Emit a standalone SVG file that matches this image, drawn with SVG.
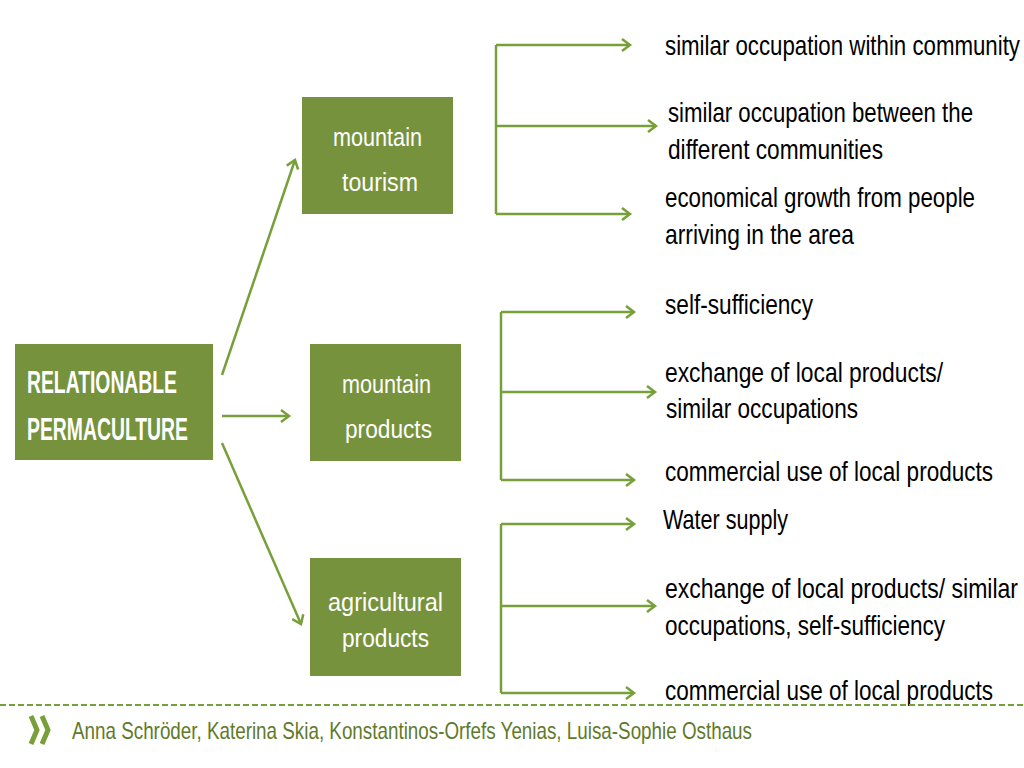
<svg xmlns="http://www.w3.org/2000/svg" width="1024" height="768" viewBox="0 0 1024 768">
<defs>
<style>
.box{fill:#76923C;}
.bt{font-family:"Liberation Sans",Arial,sans-serif;fill:#ffffff;font-size:25px;}
.mt{font-family:"Liberation Sans",Arial,sans-serif;fill:#ffffff;font-size:31px;font-weight:bold;}
.rt{font-family:"Liberation Sans",Arial,sans-serif;fill:#000000;font-size:22px;}
.ft{font-family:"Liberation Sans",Arial,sans-serif;fill:#5f7a2a;font-size:24px;}
.c{stroke:#77A03A;stroke-width:2.5;fill:none;}
</style>
<marker id="ah" markerUnits="userSpaceOnUse" markerWidth="16" markerHeight="16" viewBox="0 0 16 16" refX="13" refY="8" orient="auto">
<path d="M5,2 L13,8 L5,14" fill="none" stroke="#77A03A" stroke-width="2.5"/>
</marker>
</defs>
<rect width="1024" height="768" fill="#ffffff"/>

<g id="connectors">
<line class="c" x1="222" y1="375" x2="295" y2="160" marker-end="url(#ah)"/>
<line class="c" x1="222" y1="416" x2="289" y2="416" marker-end="url(#ah)"/>
<line class="c" x1="222" y1="443" x2="301" y2="624" marker-end="url(#ah)"/>

<path class="c" d="M496,45 V214"/>
<line class="c" x1="496" y1="45" x2="630" y2="45" marker-end="url(#ah)"/>
<line class="c" x1="496" y1="126" x2="656" y2="126" marker-end="url(#ah)"/>
<line class="c" x1="496" y1="214" x2="630" y2="214" marker-end="url(#ah)"/>

<path class="c" d="M501,312 V480"/>
<line class="c" x1="501" y1="312" x2="634" y2="312" marker-end="url(#ah)"/>
<line class="c" x1="501" y1="392" x2="655" y2="392" marker-end="url(#ah)"/>
<line class="c" x1="501" y1="480" x2="634" y2="480" marker-end="url(#ah)"/>

<path class="c" d="M501,524 V693"/>
<line class="c" x1="501" y1="524" x2="634" y2="524" marker-end="url(#ah)"/>
<line class="c" x1="501" y1="606" x2="655" y2="606" marker-end="url(#ah)"/>
<line class="c" x1="501" y1="693" x2="634" y2="693" marker-end="url(#ah)"/>
</g>

<g id="node-main">
<rect class="box" x="15" y="344" width="198" height="116"/>
<text class="mt" x="27" y="393" textLength="150" lengthAdjust="spacingAndGlyphs">RELATIONABLE</text>
<text class="mt" x="27" y="440" textLength="161" lengthAdjust="spacingAndGlyphs">PERMACULTURE</text>
</g>

<g id="node-tourism">
<rect class="box" x="302" y="97" width="151" height="117"/>
<text class="bt" x="333" y="146" textLength="89" lengthAdjust="spacingAndGlyphs">mountain</text>
<text class="bt" x="342" y="191" textLength="76" lengthAdjust="spacingAndGlyphs">tourism</text>
</g>

<g id="node-mproducts">
<rect class="box" x="310" y="344" width="151" height="117"/>
<text class="bt" x="342" y="393" textLength="89" lengthAdjust="spacingAndGlyphs">mountain</text>
<text class="bt" x="345" y="438" textLength="87" lengthAdjust="spacingAndGlyphs">products</text>
</g>

<g id="node-agri">
<rect class="box" x="310" y="558" width="151" height="118"/>
<text class="bt" x="328" y="611" textLength="115" lengthAdjust="spacingAndGlyphs">agricultural</text>
<text class="bt" x="342" y="647" textLength="87" lengthAdjust="spacingAndGlyphs">products</text>
</g>

<g id="node-t1"><text class="rt" transform="matrix(1 0 0 1.27 665 55)" textLength="355" lengthAdjust="spacingAndGlyphs">similar occupation within community</text></g>
<g id="node-t2">
<text class="rt" transform="matrix(1 0 0 1.27 668 122)" textLength="305" lengthAdjust="spacingAndGlyphs">similar occupation between the</text>
<text class="rt" transform="matrix(1 0 0 1.27 668 159)" textLength="215" lengthAdjust="spacingAndGlyphs">different communities</text>
</g>
<g id="node-t3">
<text class="rt" transform="matrix(1 0 0 1.27 665 207)" textLength="310" lengthAdjust="spacingAndGlyphs">economical growth from people</text>
<text class="rt" transform="matrix(1 0 0 1.27 665 244)" textLength="189" lengthAdjust="spacingAndGlyphs">arriving in the area</text>
</g>
<g id="node-t4"><text class="rt" transform="matrix(1 0 0 1.27 665 314)" textLength="148" lengthAdjust="spacingAndGlyphs">self-sufficiency</text></g>
<g id="node-t5">
<text class="rt" transform="matrix(1 0 0 1.27 665 382)" textLength="278" lengthAdjust="spacingAndGlyphs">exchange of local products/</text>
<text class="rt" transform="matrix(1 0 0 1.27 666 418)" textLength="192" lengthAdjust="spacingAndGlyphs">similar occupations</text>
</g>
<g id="node-t6"><text class="rt" transform="matrix(1 0 0 1.27 665 481)" textLength="328" lengthAdjust="spacingAndGlyphs">commercial use of local products</text></g>
<g id="node-t7"><text class="rt" transform="matrix(1 0 0 1.27 663 529)" textLength="125" lengthAdjust="spacingAndGlyphs">Water supply</text></g>
<g id="node-t8">
<text class="rt" transform="matrix(1 0 0 1.27 665 598)" textLength="353" lengthAdjust="spacingAndGlyphs">exchange of local products/ similar</text>
<text class="rt" transform="matrix(1 0 0 1.27 665 635)" textLength="280" lengthAdjust="spacingAndGlyphs">occupations, self-sufficiency</text>
</g>
<g id="node-t9"><text class="rt" transform="matrix(1 0 0 1.27 665 700)" textLength="328" lengthAdjust="spacingAndGlyphs">commercial use of local products</text></g>

<g id="footer">
<line x1="0" y1="705" x2="1024" y2="705" stroke="#77A03A" stroke-width="2" stroke-dasharray="6 3"/>
<path d="M31,716 L37,730 L31,744 M42,716 L48,730 L42,744" fill="none" stroke="#77A03A" stroke-width="5"/>
<text class="ft" x="72" y="739" textLength="680" lengthAdjust="spacingAndGlyphs">Anna Schröder, Katerina Skia, Konstantinos-Orfefs Yenias, Luisa-Sophie Osthaus</text>
</g>
</svg>
